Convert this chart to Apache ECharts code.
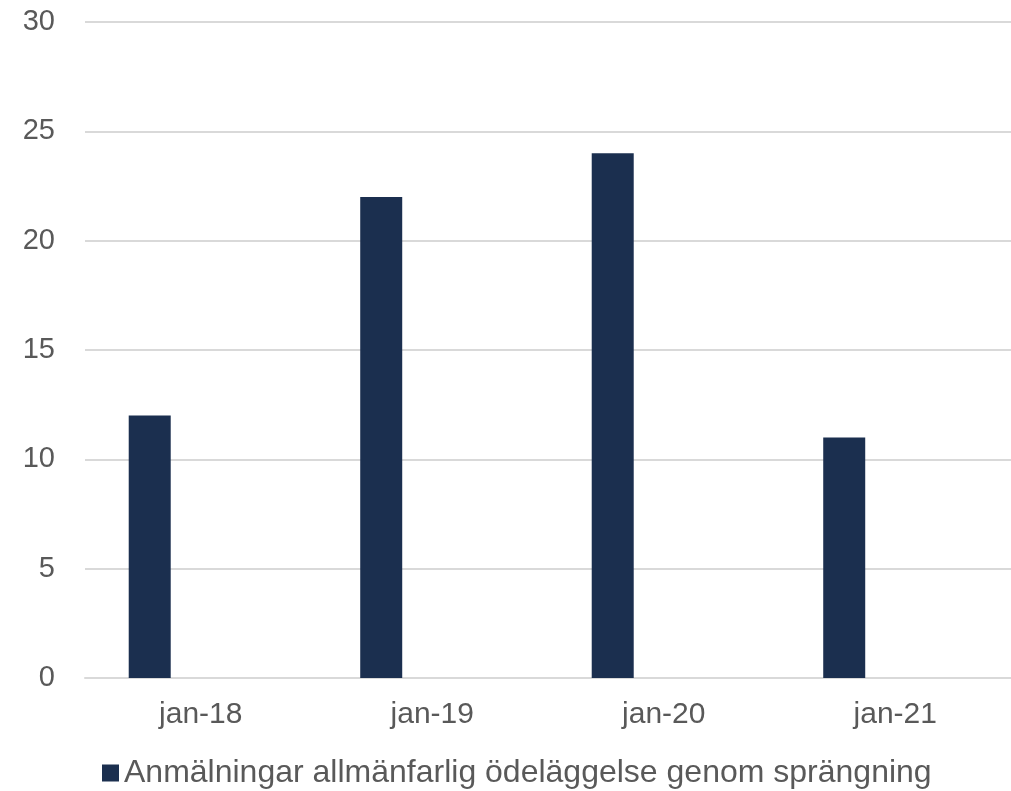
<!DOCTYPE html>
<html><head><meta charset="utf-8">
<script src="https://cdn.jsdelivr.net/npm/echarts@6/dist/echarts.min.js"></script>
<style>html,body{margin:0;padding:0;background:#fff}#c{width:1011px;height:791px}</style>
</head><body><div id="c"></div>
<script>
const categories = ['jan-18', 'jan-19', 'jan-20', 'jan-21'];
const seriesName = 'Anmälningar allmänfarlig ödeläggelse genom sprängning';
const values = [12, 22, 24, 11];
const emptyValues = [null, null, null, null];

const chart = echarts.init(document.getElementById('c'));
chart.setOption({
  animation: false,
  textStyle: { fontFamily: 'Liberation Sans, Arial, sans-serif' },
  grid: { left: 85, right: -6, top: 22, bottom: 113, containLabel: false },
  legend: {
    data: [seriesName],
    left: 97, top: 752,
    itemWidth: 17, itemHeight: 17, itemGap: 10,
    icon: 'rect',
    textStyle: { fontSize: 32, color: '#595959', fontFamily: 'Liberation Sans, Arial, sans-serif' }
  },
  xAxis: {
    type: 'category', data: categories,
    axisTick: { show: false },
    axisLine: { lineStyle: { color: '#d9d9d9', width: 2 } },
    axisLabel: { fontSize: 30, color: '#595959', margin: 22 }
  },
  yAxis: {
    type: 'value', min: 0, max: 30, interval: 5,
    axisLabel: { fontSize: 29, color: '#595959', margin: 30, align: 'right' },
    splitLine: { lineStyle: { color: '#d9d9d9', width: 2 } },
    axisLine: { show: false }, axisTick: { show: false }
  },
  series: [
    { name: seriesName, type: 'bar', data: values, barWidth: 42, barGap: '143%',
      itemStyle: { color: '#1b2f4f' } },
    { name: 'empty', type: 'bar', data: emptyValues, barWidth: 42 }
  ]
});
</script></body></html>
